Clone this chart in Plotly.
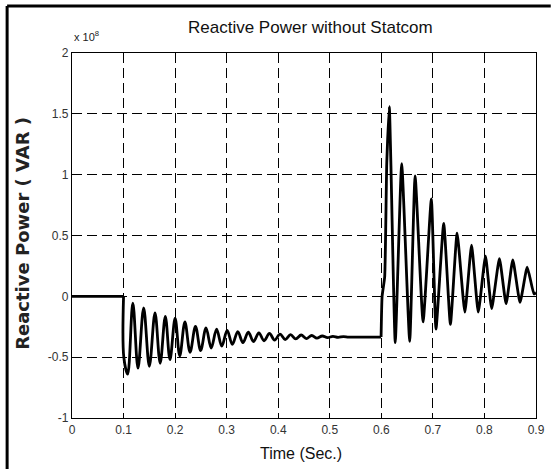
import plotly.graph_objects as go

# Reactive power in units of 1e8 VAR
# Segment 1: steady state before the disturbance (0 - 0.1 s)
pre_t = [0.000, 0.100]
pre_q = [0.00, 0.00]

# Segment 2: disturbance at 0.1 s, decaying oscillation to ~ -0.335
mid_t = [
    0.100, 0.1005, 0.108,
    0.118, 0.128, 0.139, 0.150, 0.161, 0.171, 0.181, 0.190, 0.200, 0.209,
    0.219, 0.229, 0.2395, 0.2495, 0.260, 0.270, 0.2805, 0.2905, 0.301, 0.311,
    0.3215, 0.3315, 0.342, 0.352, 0.3625, 0.3725, 0.383, 0.393, 0.4035, 0.4135,
    0.424, 0.434, 0.4445, 0.4545, 0.465, 0.475, 0.4855, 0.4955, 0.506, 0.516,
    0.5265, 0.5365, 0.560, 0.5995,
]
mid_q = [
    0.00, -0.50, -0.64,
    -0.055, -0.59, -0.096, -0.575, -0.137, -0.55, -0.164, -0.52, -0.18, -0.49,
    -0.21, -0.46, -0.247, -0.445, -0.26, -0.425, -0.27, -0.41, -0.28, -0.395,
    -0.29, -0.38, -0.295, -0.372, -0.30, -0.365, -0.305, -0.36, -0.31, -0.355,
    -0.315, -0.35, -0.318, -0.347, -0.322, -0.343, -0.326, -0.34, -0.329, -0.337,
    -0.331, -0.335, -0.335, -0.335,
]

# Segment 3: second disturbance at 0.6 s
post_t = [
    0.5995, 0.6015, 0.6065, 0.6105, 0.6155, 0.6185, 0.627,
    0.6395, 0.655, 0.6655, 0.681, 0.697, 0.706,
    0.721, 0.734, 0.747, 0.762, 0.775, 0.788, 0.802, 0.814,
    0.829, 0.842, 0.855, 0.869, 0.883, 0.896, 0.900,
]
post_q = [
    -0.335, 0.00, 0.16, 1.09, 1.56, 1.10, -0.38,
    1.09, -0.37, 0.99, -0.21, 0.80, -0.27,
    0.60, -0.23, 0.52, -0.13, 0.42, -0.13, 0.33, -0.10,
    0.31, -0.06, 0.30, -0.05, 0.24, 0.02, 0.03,
]

x_ticks = [0, 0.1, 0.2, 0.3, 0.4, 0.5, 0.6, 0.7, 0.8, 0.9]
x_labels = ["0", "0.1", "0.2", "0.3", "0.4", "0.5", "0.6", "0.7", "0.8", "0.9"]
y_ticks = [-1, -0.5, 0, 0.5, 1, 1.5, 2]
y_labels = ["-1", "-0.5", "0", "0.5", "1", "1.5", "2"]

W, H = 557, 469
L, R, T, B = 72, 13, 53, 51
pw, ph = W - L - R, H - T - B

def px(x):
    return (x - L) / pw

def py(y):
    return (H - B - y) / ph

sans = "Liberation Sans, Arial, sans-serif"

fig = go.Figure()
fig.add_trace(go.Scatter(x=pre_t, y=pre_q, mode="lines",
                         line=dict(color="black", width=2.8),
                         showlegend=False, hoverinfo="skip"))
fig.add_trace(go.Scatter(x=mid_t, y=mid_q, mode="lines",
                         line=dict(color="black", width=2.8, shape="spline", smoothing=1.0),
                         showlegend=False, hoverinfo="skip"))
fig.add_trace(go.Scatter(x=post_t, y=post_q, mode="lines",
                         line=dict(color="black", width=2.8, shape="spline", smoothing=0.45),
                         showlegend=False, hoverinfo="skip"))

axis_common = dict(
    showline=True, linecolor="black", linewidth=1.3, mirror="ticks",
    ticks="inside", ticklen=5, tickcolor="black", tickwidth=1,
    showgrid=True, gridcolor="black", gridwidth=1, griddash="10px,5px",
    zeroline=False,
    tickfont=dict(family=sans, size=12, color="#333333"),
)

fig.update_layout(
    width=W, height=H,
    margin=dict(l=L, r=R, t=T, b=B, pad=0),
    paper_bgcolor="white", plot_bgcolor="white",
    xaxis=dict(range=[0, 0.9], tickvals=x_ticks, ticktext=x_labels, **axis_common),
    yaxis=dict(range=[-1, 2], tickvals=y_ticks, ticktext=y_labels, **axis_common),
    annotations=[
        dict(text="Reactive Power without Statcom", xref="paper", yref="paper",
             x=px(315), y=py(27), xanchor="center", yanchor="middle", showarrow=False,
             font=dict(family=sans, size=17, color="#111111")),
        dict(text="Time (Sec.)", xref="paper", yref="paper",
             x=px(305), y=py(453), xanchor="center", yanchor="middle", showarrow=False,
             font=dict(family=sans, size=16, color="#111111")),
        dict(text="Reactive Power ( VAR )", xref="paper", yref="paper",
             x=px(21), y=py(233), xanchor="center", yanchor="middle", showarrow=False,
             textangle=-90,
             font=dict(family="DejaVu Sans", size=18, color="#222222", weight="bold")),
        dict(text="x 10<sup>8</sup>", xref="paper", yref="paper",
             x=px(72), y=py(45), xanchor="left", yanchor="bottom", showarrow=False,
             font=dict(family=sans, size=11, color="#222222")),
    ],
    shapes=[
        dict(type="line", xref="paper", yref="paper", x0=px(6), x1=px(W + 2),
             y0=py(6), y1=py(6), line=dict(color="black", width=3)),
        dict(type="line", xref="paper", yref="paper", x0=px(6), x1=px(6),
             y0=py(6), y1=py(H + 2), line=dict(color="black", width=3)),
    ],
)

fig.write_html("out.html")
